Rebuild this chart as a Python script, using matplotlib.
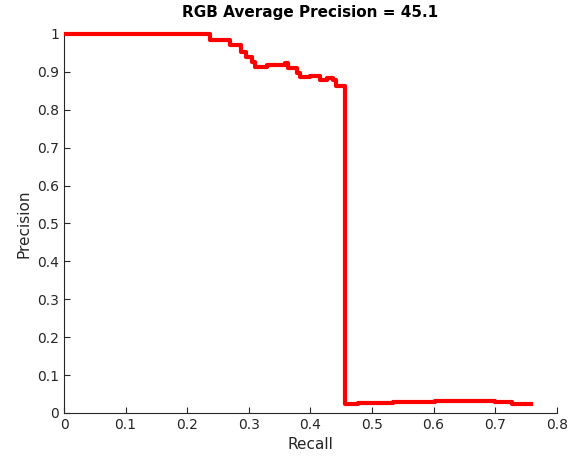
import numpy as np
import matplotlib
matplotlib.use("Agg")
import matplotlib.pyplot as plt

# precision/recall points (step-wise)
recall = [0.003, 0.237, 0.269, 0.288, 0.296, 0.305, 0.310, 0.329, 0.359, 0.363,
          0.378, 0.383, 0.399, 0.415, 0.427, 0.437, 0.441, 0.456, 0.477, 0.534,
          0.602, 0.699, 0.727, 0.758]
precision = [1.000, 0.984, 0.971, 0.952, 0.939, 0.926, 0.913, 0.918, 0.923, 0.910,
             0.897, 0.887, 0.889, 0.879, 0.884, 0.879, 0.863, 0.024, 0.026, 0.029,
             0.032, 0.029, 0.024, 0.024]

xticks = np.arange(0, 0.81, 0.1)
yticks = np.arange(0, 1.01, 0.1)

fig = plt.figure(figsize=(5.74, 4.58), dpi=100)
ax = fig.add_axes([0.1115, 0.0983, 0.8585, 0.8275])

ax.plot(recall, precision, color="red", linewidth=3, drawstyle="steps-post",
        clip_on=False, zorder=3)

ax.set_xlim(0, 0.8)
ax.set_ylim(0, 1)
ax.set_xticks(xticks)
ax.set_yticks(yticks)
ax.set_xticklabels(["%g" % round(t, 1) for t in xticks])
ax.set_yticklabels(["%g" % round(t, 1) for t in yticks])

for s in ["top", "right"]:
    ax.spines[s].set_visible(False)
for s in ["left", "bottom"]:
    ax.spines[s].set_color("#262626")
ax.tick_params(direction="in", length=4, colors="#262626", labelsize=10)

ax.set_xlabel("Recall", fontsize=11, color="#262626")
ax.set_ylabel("Precision", fontsize=11, color="#262626")
ax.set_title("RGB Average Precision = 45.1", fontsize=11, fontweight="bold", pad=12)

fig.savefig("out.png", dpi=100)
